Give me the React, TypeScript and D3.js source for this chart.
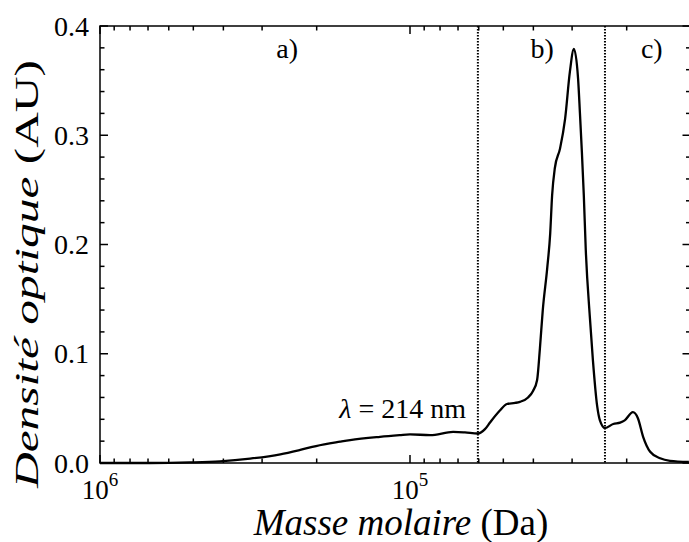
import React from "react";
import * as d3 from "d3";

// ---- data (mass in Da, optical density in AU), ordered from high to low mass ----
const masses = [
  1000000, 690000, 513000, 410000, 328000, 262000, 226000, 201000, 168000, 156000,
  125000, 108000, 100000, 86100, 72600, 66500, 60400, 57300, 55200, 51300,
  48700, 45800, 44200, 41600, 40100, 38900, 38100, 37300, 36100, 35300,
  34800, 34100, 32800, 31600, 30500, 29600, 28700, 28300, 27900, 27500,
  27100, 26300, 25700, 24900, 24400, 23500, 22100, 21000, 20300, 19100,
  18400, 17700, 16800, 15600, 14500, 12600,
];
const density = [
  0, 0, 0.0005, 0.0015, 0.004, 0.008, 0.012, 0.0155, 0.0195, 0.021,
  0.024, 0.0255, 0.0262, 0.0255, 0.0285, 0.028, 0.027, 0.031, 0.037, 0.048,
  0.054, 0.055, 0.056, 0.06, 0.066, 0.076, 0.105, 0.14, 0.178, 0.21,
  0.245, 0.27, 0.288, 0.315, 0.358, 0.379, 0.352, 0.32, 0.285, 0.245,
  0.195, 0.134, 0.094, 0.052, 0.039, 0.032, 0.0357, 0.037, 0.039, 0.0465,
  0.041, 0.024, 0.0103, 0.0043, 0.002, 0.001,
];
const boundaries = [60400, 23500];
const regionLabels = ["a)", "b)", "c)"];
const regionLabelMass = [249000, 37500, 16600];
const yTicks = [0, 0.1, 0.2, 0.3, 0.4];
const xMajorExp = [6, 5];
const xDomain = [1000000, 12450];
const yDomain = [0, 0.4];
const annotation = "214 nm";

const W = 689;
const H = 542;
const L = 100;
const R = 690.5;
const T = 26;
const B = 463;
const FONT = "'Liberation Serif', 'Times New Roman', serif";

export default function App() {
  const x = d3.scaleLog().domain(xDomain).range([L, R]);
  const y = d3.scaleLinear().domain(yDomain).range([B, T]);
  const pts = masses.map((m, i) => [x(m), y(density[i])] as [number, number]);
  const line = d3.line().curve(d3.curveMonotoneX)(pts) || "";

  const minorX: number[] = [];
  for (let e = 4; e <= 5; e++) {
    for (let k = 2; k <= 9; k++) {
      const v = k * Math.pow(10, e);
      if (v <= xDomain[0] && v >= xDomain[1]) minorX.push(v);
    }
  }
  const minorY = d3.range(0, 0.4001, 0.02).filter((v) => Math.abs(v * 10 - Math.round(v * 10)) > 1e-6);

  const sw = 1.5;
  return (
    <svg width={W} height={H} style={{ position: "absolute", left: 0, top: 0, background: "#fff" }}>
      <rect x={0} y={0} width={W} height={H} fill="#fff" />
      {/* boundaries */}
      {boundaries.map((b, i) => (
        <line key={"b" + i} x1={x(b)} x2={x(b)} y1={T} y2={B} stroke="#000" strokeWidth={2} strokeDasharray="1.5 1.5" />
      ))}
      {/* curve */}
      <path d={line} fill="none" stroke="#000" strokeWidth={2.3} strokeLinejoin="round" />
      {/* frame */}
      <rect x={L} y={T} width={R - L} height={B - T} fill="none" stroke="#000" strokeWidth={sw} />
      {/* x ticks */}
      {xMajorExp.map((e) => {
        const px = x(Math.pow(10, e));
        return (
          <g key={"xm" + e}>
            <line x1={px} x2={px} y1={B} y2={B - 8} stroke="#000" strokeWidth={sw} />
            <line x1={px} x2={px} y1={T} y2={T + 8} stroke="#000" strokeWidth={sw} />
            <text x={px} y={499} textAnchor="middle" fontFamily={FONT} fontSize={27}>
              10<tspan dy={-13} fontSize={19}>{e}</tspan>
            </text>
          </g>
        );
      })}
      {minorX.map((v) => {
        const px = x(v);
        return (
          <g key={"xn" + v}>
            <line x1={px} x2={px} y1={B} y2={B - 4.5} stroke="#000" strokeWidth={sw} />
            <line x1={px} x2={px} y1={T} y2={T + 4.5} stroke="#000" strokeWidth={sw} />
          </g>
        );
      })}
      {/* y ticks */}
      {yTicks.map((v) => {
        const py = y(v);
        return (
          <g key={"ym" + v}>
            <line x1={L} x2={L + 8} y1={py} y2={py} stroke="#000" strokeWidth={sw} />
            <line x1={R} x2={R - 8} y1={py} y2={py} stroke="#000" strokeWidth={sw} />
            <text x={89} y={py + 9.5} textAnchor="end" fontFamily={FONT} fontSize={28}>
              {v.toFixed(1)}
            </text>
          </g>
        );
      })}
      {minorY.map((v) => {
        const py = y(v);
        return (
          <g key={"yn" + v}>
            <line x1={L} x2={L + 4.5} y1={py} y2={py} stroke="#000" strokeWidth={sw} />
            <line x1={R} x2={R - 4.5} y1={py} y2={py} stroke="#000" strokeWidth={sw} />
          </g>
        );
      })}
      {/* region labels */}
      {regionLabels.map((t, i) => (
        <text key={t} x={x(regionLabelMass[i])} y={58} textAnchor="middle" fontFamily={FONT} fontSize={28}>
          {t}
        </text>
      ))}
      {/* annotation */}
      <text x={466} y={418} textAnchor="end" fontFamily={FONT} fontSize={28}>
        <tspan fontStyle="italic">λ</tspan> = {annotation}
      </text>
      {/* axis titles */}
      <text x={401} y={535} textAnchor="middle" fontFamily={FONT} fontSize={37}>
        <tspan fontStyle="italic">Masse molaire</tspan> (Da)
      </text>
      <text
        transform={`translate(38, 274) rotate(-90)`}
        textAnchor="middle"
        fontFamily={FONT}
        fontSize={34}
        textLength={428}
        lengthAdjust="spacingAndGlyphs"
      >
        <tspan fontStyle="italic">Densité optique</tspan> (AU)
      </text>
    </svg>
  );
}
